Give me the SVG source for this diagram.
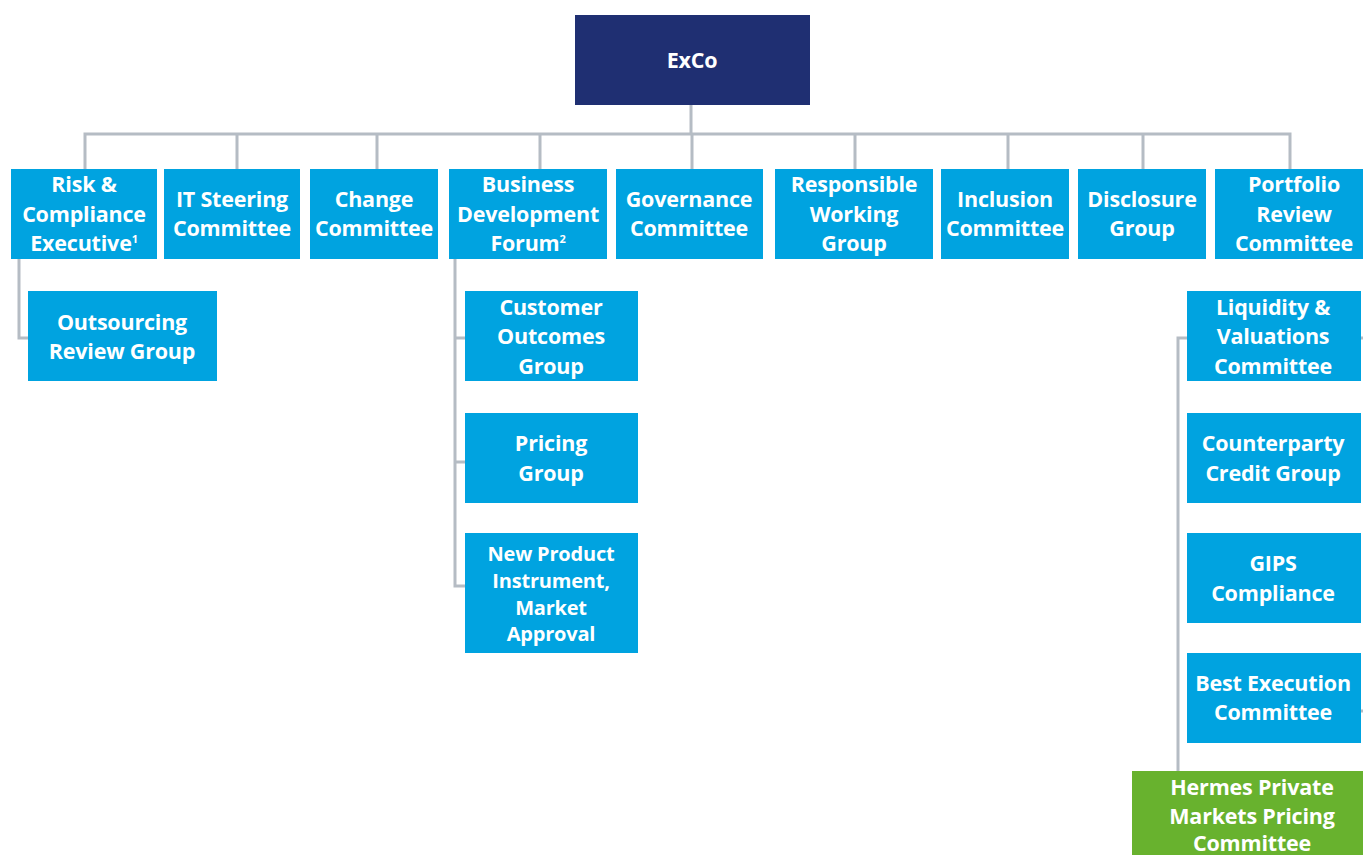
<svg xmlns="http://www.w3.org/2000/svg" width="1363" height="855" viewBox="0 0 1363 855">
<style>
.b{fill:#00a3e0}
.g{fill:#68b22e}
.n{fill:#1f2f72}
text{font-family:"Open Sans",Lato,"Liberation Sans",sans-serif;font-weight:bold;font-size:21.5px;fill:#fff;text-anchor:middle;letter-spacing:-0.2px}
.t{font-size:20px}
.c{fill:none;stroke:#b5bcc4;stroke-width:3}
.s{font-size:11px}
</style>
<rect width="1363" height="855" fill="#fff"/>
<g id="connectors" class="c">
<path d="M691 105V134M85 169V134H1290V169M237 134V169M377 134V169M540 134V169M692 134V169M855 134V169M1008 134V169M1143 134V169"/>
<path d="M19 259V338H28"/>
<path d="M455 259V586H465M455 338H465M455 462H465"/>
<path d="M1187 338H1178V771"/>
<path d="M1361 338H1363M1361 711H1363"/>
</g>
<g id="exco"><rect class="n" x="575" y="15" width="235" height="90"/><text x="692" y="68">ExCo</text></g>
<g id="risk"><rect class="b" x="11" y="169" width="146" height="90"/><text x="84" y="192">Risk &amp;</text><text x="84" y="222">Compliance</text><text x="84" y="251">Executive<tspan class="s" dy="-8">1</tspan></text></g>
<g id="it"><rect class="b" x="164" y="169" width="136" height="90"/><text x="232" y="207">IT Steering</text><text x="232" y="236">Committee</text></g>
<g id="change"><rect class="b" x="310" y="169" width="128" height="90"/><text x="374" y="207">Change</text><text x="374" y="236">Committee</text></g>
<g id="bdf"><rect class="b" x="449" y="169" width="158" height="90"/><text x="528" y="192">Business</text><text x="528" y="222">Development</text><text x="528" y="251">Forum<tspan class="s" dy="-8">2</tspan></text></g>
<g id="gov"><rect class="b" x="616" y="169" width="147" height="90"/><text x="689" y="207">Governance</text><text x="689" y="236">Committee</text></g>
<g id="rwg"><rect class="b" x="775" y="169" width="158" height="90"/><text x="854" y="192">Responsible</text><text x="854" y="222">Working</text><text x="854" y="251">Group</text></g>
<g id="inc"><rect class="b" x="941" y="169" width="128" height="90"/><text x="1005" y="207">Inclusion</text><text x="1005" y="236">Committee</text></g>
<g id="disc"><rect class="b" x="1078" y="169" width="128" height="90"/><text x="1142" y="207">Disclosure</text><text x="1142" y="236">Group</text></g>
<g id="prc"><rect class="b" x="1215" y="169" width="148" height="90"/><text x="1294" y="192">Portfolio</text><text x="1294" y="222">Review</text><text x="1294" y="251">Committee</text></g>
<g id="orc"><rect class="b" x="28" y="291" width="189" height="90"/><text x="122" y="330">Outsourcing</text><text x="122" y="359">Review Group</text></g>
<g id="cog"><rect class="b" x="465" y="291" width="173" height="90"/><text x="551" y="315">Customer</text><text x="551" y="344">Outcomes</text><text x="551" y="374">Group</text></g>
<g id="pg"><rect class="b" x="465" y="413" width="173" height="90"/><text x="551" y="451">Pricing</text><text x="551" y="481">Group</text></g>
<g id="npa"><rect class="b" x="465" y="533" width="173" height="120"/><text class="t" x="551" y="561">New Product</text><text class="t" x="551" y="588">Instrument,</text><text class="t" x="551" y="615">Market</text><text class="t" x="551" y="641">Approval</text></g>
<g id="lvc"><rect class="b" x="1187" y="291" width="174" height="90"/><text x="1273" y="315">Liquidity &amp;</text><text x="1273" y="344">Valuations</text><text x="1273" y="374">Committee</text></g>
<g id="ccg"><rect class="b" x="1187" y="413" width="174" height="90"/><text x="1273" y="451">Counterparty</text><text x="1273" y="481">Credit Group</text></g>
<g id="gips"><rect class="b" x="1187" y="533" width="174" height="90"/><text x="1273" y="571">GIPS</text><text x="1273" y="601">Compliance</text></g>
<g id="bec"><rect class="b" x="1187" y="653" width="174" height="90"/><text x="1273" y="691">Best Execution</text><text x="1273" y="720">Committee</text></g>
<g id="hpm"><rect class="g" x="1132" y="771" width="231" height="84"/><text x="1252" y="795">Hermes Private</text><text x="1252" y="824">Markets Pricing</text><text x="1252" y="851">Committee</text></g>
</svg>
